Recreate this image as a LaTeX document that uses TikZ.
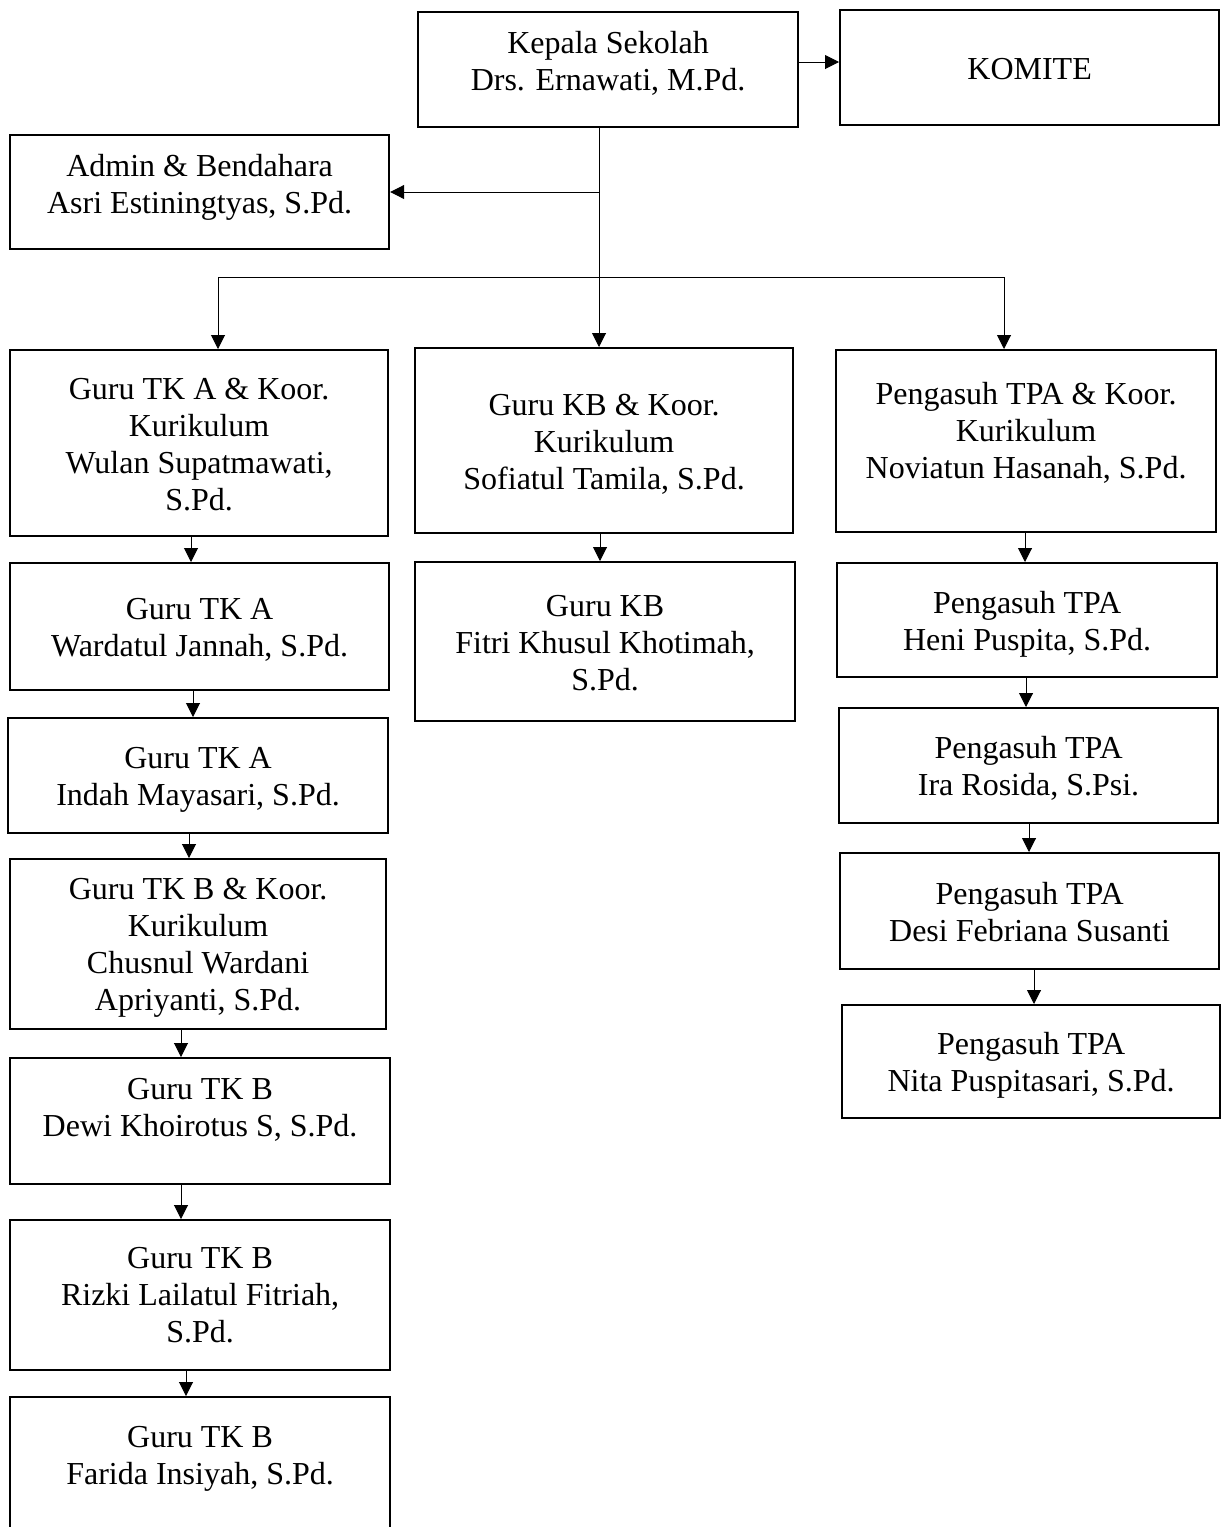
\documentclass[tikz,border=0pt]{standalone}
\usepackage{fontspec}
\setmainfont{Liberation Serif}
\usepackage{tikz}
\usetikzlibrary{arrows.meta}

\newlength{\unitpx}
\setlength{\unitpx}{0.5pt}
% width, height, first baseline, text (all in px)
\newcommand{\boxtext}[4]{\parbox[c][#2\unitpx][t]{#1\unitpx}{\centering\rule{0pt}{#3\unitpx}#4}}

\begin{document}
\begin{tikzpicture}[x=0.5pt, y=-0.5pt]

    \tikzstyle{unit} = [rectangle, draw=black, line width=1.1pt, inner sep=0pt, anchor=north west, font=\fontsize{16}{18.5}\selectfont]
    \tikzstyle{link} = [line width=0.5pt]
    \tikzstyle{arrow} = [line width=0.5pt, -{Triangle[length=7pt,width=7pt]}]

    \useasboundingbox (0,0) rectangle (1225,1527);
    \clip (0,0) rectangle (1225,1527);

    \node (kepala) [unit] at (417,11) {\boxtext{380}{115}{41}{Kepala Sekolah\\ Drs. Ernawati, M.Pd.}};
    \node (komite) [unit] at (839,9) {\boxtext{379}{115}{69}{KOMITE}};
    \node (admin) [unit] at (9,134) {\boxtext{379}{114}{41}{Admin \& Bendahara\\ Asri Estiningtyas, S.Pd.}};

    % TK
    \node (tka1) [unit] at (9,349) {\boxtext{378}{186}{49}{Guru TK A \& Koor.\\ Kurikulum\\ Wulan Supatmawati,\\ S.Pd.}};
    \node (tka2) [unit] at (9,562) {\boxtext{379}{127}{56}{Guru TK A\\ Wardatul Jannah, S.Pd.}};
    \node (tka3) [unit] at (7,717) {\boxtext{380}{115}{50}{Guru TK A\\ Indah Mayasari, S.Pd.}};
    \node (tkb1) [unit] at (9,858) {\boxtext{376}{170}{40}{Guru TK B \& Koor.\\ Kurikulum\\ Chusnul Wardani\\ Apriyanti, S.Pd.}};
    \node (tkb2) [unit] at (9,1057) {\boxtext{380}{126}{41}{Guru TK B\\ Dewi Khoirotus S, S.Pd.}};
    \node (tkb3) [unit] at (9,1219) {\boxtext{380}{150}{48}{Guru TK B\\ Rizki Lailatul Fitriah,\\ S.Pd.}};
    \node (tkb4) [unit] at (9,1396) {\boxtext{380}{140}{50}{Guru TK B\\ Farida Insiyah, S.Pd.}};

    % KB
    \node (kb1) [unit] at (414,347) {\boxtext{378}{185}{67}{Guru KB \& Koor.\\ Kurikulum\\ Sofiatul Tamila, S.Pd.}};
    \node (kb2) [unit] at (414,561) {\boxtext{380}{159}{54}{Guru KB\\ Fitri Khusul Khotimah,\\ S.Pd.}};

    % TPA
    \node (tpa1) [unit] at (835,349) {\boxtext{380}{182}{54}{Pengasuh TPA \& Koor.\\ Kurikulum\\ Noviatun Hasanah, S.Pd.}};
    \node (tpa2) [unit] at (836,562) {\boxtext{380}{114}{50}{Pengasuh TPA\\ Heni Puspita, S.Pd.}};
    \node (tpa3) [unit] at (838,707) {\boxtext{379}{115}{50}{Pengasuh TPA\\ Ira Rosida, S.Psi.}};
    \node (tpa4) [unit] at (839,852) {\boxtext{379}{116}{51}{Pengasuh TPA\\ Desi Febriana Susanti}};
    \node (tpa5) [unit] at (841,1004) {\boxtext{378}{113}{49}{Pengasuh TPA\\ Nita Puspitasari, S.Pd.}};

    \coordinate (split) at (599,192);
    \coordinate (busL) at (218,277);
    \coordinate (busR) at (1004,277);

    \draw [arrow] (0,62 -| kepala.east) -- (0,62 -| komite.west);
    \draw [arrow] (599,0 |- kepala.south) -- (599,0 |- kb1.north);
    \draw [arrow] (split) -- (split -| admin.east);
    \draw [link] (busL) -- (busR);
    \draw [arrow] (busL) -- (busL |- tka1.north);
    \draw [arrow] (busR) -- (busR |- tpa1.north);

    \foreach \a/\b/\x in {tka1/tka2/191, tka2/tka3/193, tka3/tkb1/189, tkb1/tkb2/181, tkb2/tkb3/181, tkb3/tkb4/186, kb1/kb2/600, tpa1/tpa2/1025, tpa2/tpa3/1026, tpa3/tpa4/1029, tpa4/tpa5/1034}
        \draw [arrow] (\x,0 |- \a.south) -- (\x,0 |- \b.north);

\end{tikzpicture}
\end{document}
